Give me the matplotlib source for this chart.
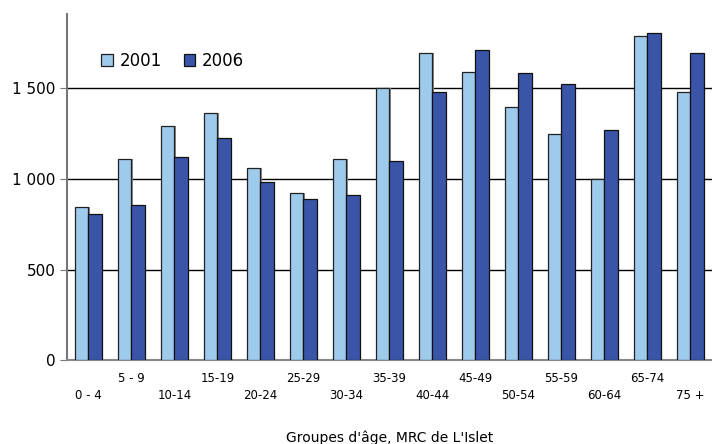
import matplotlib.pyplot as plt
import numpy as np
from matplotlib.ticker import FuncFormatter

# age groups and population counts, MRC de L'Islet
groups = ["0 - 4", "5 - 9", "10-14", "15-19", "20-24", "25-29", "30-34", "35-39",
          "40-44", "45-49", "50-54", "55-59", "60-64", "65-74", "75 +"]
pop_2001 = [848, 1110, 1290, 1362, 1058, 922, 1108, 1500,
            1695, 1590, 1397, 1250, 1000, 1790, 1482]
pop_2006 = [806, 858, 1122, 1228, 985, 890, 910, 1098,
            1482, 1715, 1588, 1525, 1270, 1808, 1695]

c_2001 = "#9ecaeb"
c_2006 = "#3a55a8"

fig = plt.figure(figsize=(7.12, 4.44), dpi=100)
ax = fig.add_axes([0.094, 0.189, 0.906, 0.779])

x = np.arange(len(groups))
w = 0.31
# soft gray shadow behind every bar
ax.bar(x - w / 2 + 0.035, pop_2001, width=w, color="#8a8a8a", zorder=2)
ax.bar(x + w / 2 + 0.035, pop_2006, width=w, color="#8a8a8a", zorder=2)
ax.bar(x - w / 2, pop_2001, width=w, color=c_2001, edgecolor="#222222", linewidth=0.9,
       label="2001", zorder=3)
ax.bar(x + w / 2, pop_2006, width=w, color=c_2006, edgecolor="#111111", linewidth=0.9,
       label="2006", zorder=3)

ax.set_xlim(-0.5, len(groups) - 0.5)
ax.set_ylim(0, 1910)
ax.set_yticks([0, 500, 1000, 1500])
ax.yaxis.set_major_formatter(FuncFormatter(lambda v, p: f"{int(v):,}".replace(",", " ")))
for yv in [500, 1000, 1500]:
    ax.axhline(yv, color="black", linewidth=1.0, zorder=1)

for s in ["top", "right"]:
    ax.spines[s].set_visible(False)
ax.spines["left"].set_color("#777777")
ax.spines["left"].set_linewidth(1.5)
ax.spines["bottom"].set_color("#888888")
ax.spines["bottom"].set_linewidth(1.5)
ax.tick_params(axis="y", length=5, color="#777777", labelsize=11, pad=3)

# staggered x labels
ax.set_xticks(x)
ax.set_xticklabels([])
ax.tick_params(axis="x", length=0)
for i, g in enumerate(groups):
    yy = -100 if i % 2 else -193
    ax.text(i, yy, g, ha="center", va="center", fontsize=8.5)

ax.set_xlabel("Groupes d'âge, MRC de L'Islet", fontsize=10, labelpad=47)

ax.legend(loc="upper left", bbox_to_anchor=(0.03, 0.935), ncol=2, frameon=False,
          fontsize=12, handlelength=0.7, handleheight=0.7, handletextpad=0.4,
          columnspacing=1.3)

fig.savefig("out.png", dpi=100)
